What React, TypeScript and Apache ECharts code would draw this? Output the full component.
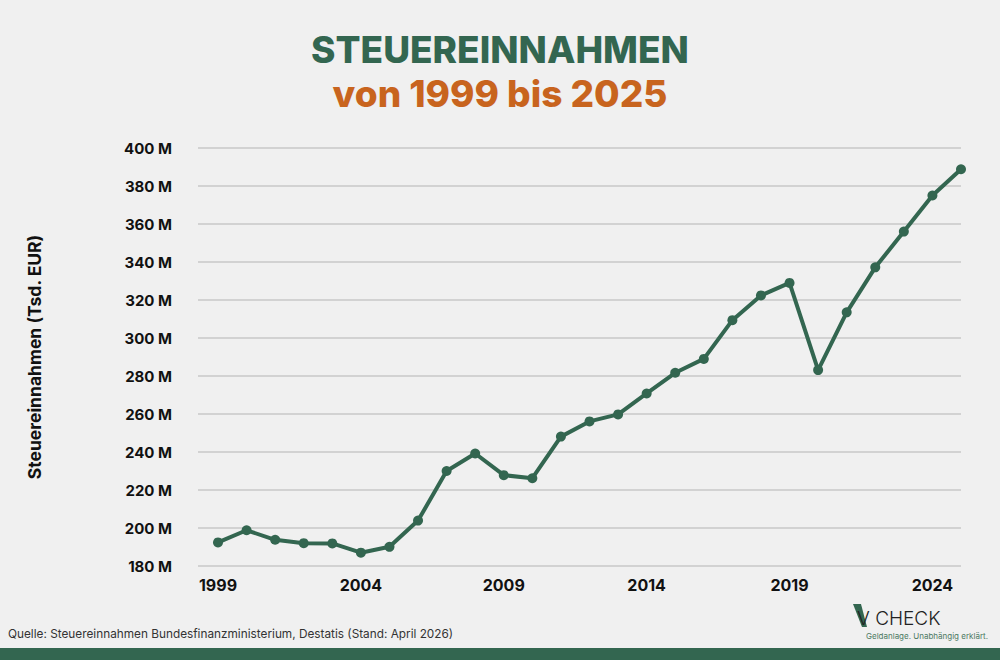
import React, { useEffect, useRef } from "react";
import * as echarts from "echarts";

// Steuereinnahmen des Bundes in Mrd. EUR (Achse in "M" Tsd. EUR)
const years = [
  1999, 2000, 2001, 2002, 2003, 2004, 2005, 2006, 2007, 2008, 2009, 2010, 2011,
  2012, 2013, 2014, 2015, 2016, 2017, 2018, 2019, 2020, 2021, 2022, 2023, 2024, 2025,
];
const revenue = [
  192.4, 198.8, 193.8, 192.0, 191.9, 187.0, 190.1, 203.9, 230.0, 239.2, 227.8, 226.2,
  248.1, 256.1, 259.8, 270.8, 281.7, 289.0, 309.4, 322.4, 329.0, 283.1, 313.5, 337.2,
  356.0, 375.0, 388.8,
];
const yearLabels = [1999, 2004, 2009, 2014, 2019, 2024];

const GREEN = "#336650";
const ORANGE = "#c8641e";
const FONT = "Inter, 'Open Sans', sans-serif";

export default function App() {
  const ref = useRef<HTMLDivElement>(null);

  useEffect(() => {
    document.body.style.margin = "0";
    const chart = echarts.init(ref.current!, null, { renderer: "svg" });
    const points = years.map((y, i) => [y, revenue[i]]);

    chart.setOption({
      animation: false,
      backgroundColor: "#f0f0f0",
      grid: { left: 198, right: 39, top: 148, bottom: 94 },
      xAxis: {
        type: "value",
        min: 1998.3,
        max: 2025,
        axisLine: { show: false },
        axisTick: { show: false },
        splitLine: { show: false },
        axisLabel: {
          customValues: yearLabels,
          formatter: (v: number) => String(v),
          color: "#111",
          fontFamily: FONT,
          fontWeight: "bold",
          fontSize: 16,
          margin: 11,
        },
      },
      yAxis: {
        type: "value",
        min: 180,
        max: 400,
        interval: 20,
        name: "Steuereinnahmen (Tsd. EUR)",
        nameLocation: "middle",
        nameGap: 155,
        nameRotate: 90,
        nameTextStyle: {
          color: "#111",
          fontFamily: FONT,
          fontWeight: "bold",
          fontSize: 17.5,
        },
        axisLine: { show: false },
        axisTick: { show: false },
        splitLine: { lineStyle: { color: "#c8c8c8", width: 1.5 } },
        axisLabel: {
          formatter: (v: number) => `${v} M`,
          color: "#111",
          fontFamily: FONT,
          fontWeight: "bold",
          fontSize: 15,
          margin: 26,
        },
      },
      series: [
        {
          type: "line",
          data: points,
          symbol: "circle",
          symbolSize: 10,
          lineStyle: { color: GREEN, width: 4 },
          itemStyle: { color: GREEN },
        },
      ],
      graphic: [
        {
          type: "text",
          left: "center",
          top: 31,
          style: {
            text: "STEUEREINNAHMEN",
            fill: GREEN,
            font: `800 37px ${FONT}`,
            shadowColor: "rgba(0,0,0,0.2)",
            shadowBlur: 3,
            shadowOffsetY: 1,
          },
        },
        {
          type: "text",
          left: "center",
          top: 75,
          style: {
            text: "von 1999 bis 2025",
            fill: ORANGE,
            font: `800 37px ${FONT}`,
            shadowColor: "rgba(0,0,0,0.2)",
            shadowBlur: 3,
            shadowOffsetY: 1,
          },
        },
        {
          type: "text",
          left: 8,
          top: 628,
          style: {
            text: "Quelle: Steuereinnahmen Bundesfinanzministerium, Destatis (Stand: April 2026)",
            fill: "#333",
            font: `11.8px ${FONT}`,
          },
        },
        {
          type: "polygon",
          shape: {
            points: [
              [853, 604],
              [861, 604],
              [867, 627],
              [862, 627],
            ],
          },
          style: { fill: GREEN },
        },
        {
          type: "text",
          left: 857,
          top: 609,
          style: {
            text: "V CHECK",
            fill: "#222",
            font: `300 19px ${FONT}`,
          },
        },
        {
          type: "text",
          left: 866,
          top: 632,
          style: {
            text: "Geldanlage. Unabhängig erklärt.",
            fill: "#4d7a63",
            font: `8px ${FONT}`,
          },
        },
        {
          type: "rect",
          shape: { x: 0, y: 648, width: 1000, height: 12 },
          style: { fill: GREEN },
        },
      ],
    });

    return () => chart.dispose();
  }, []);

  return <div ref={ref} style={{ width: 1000, height: 660 }} />;
}
